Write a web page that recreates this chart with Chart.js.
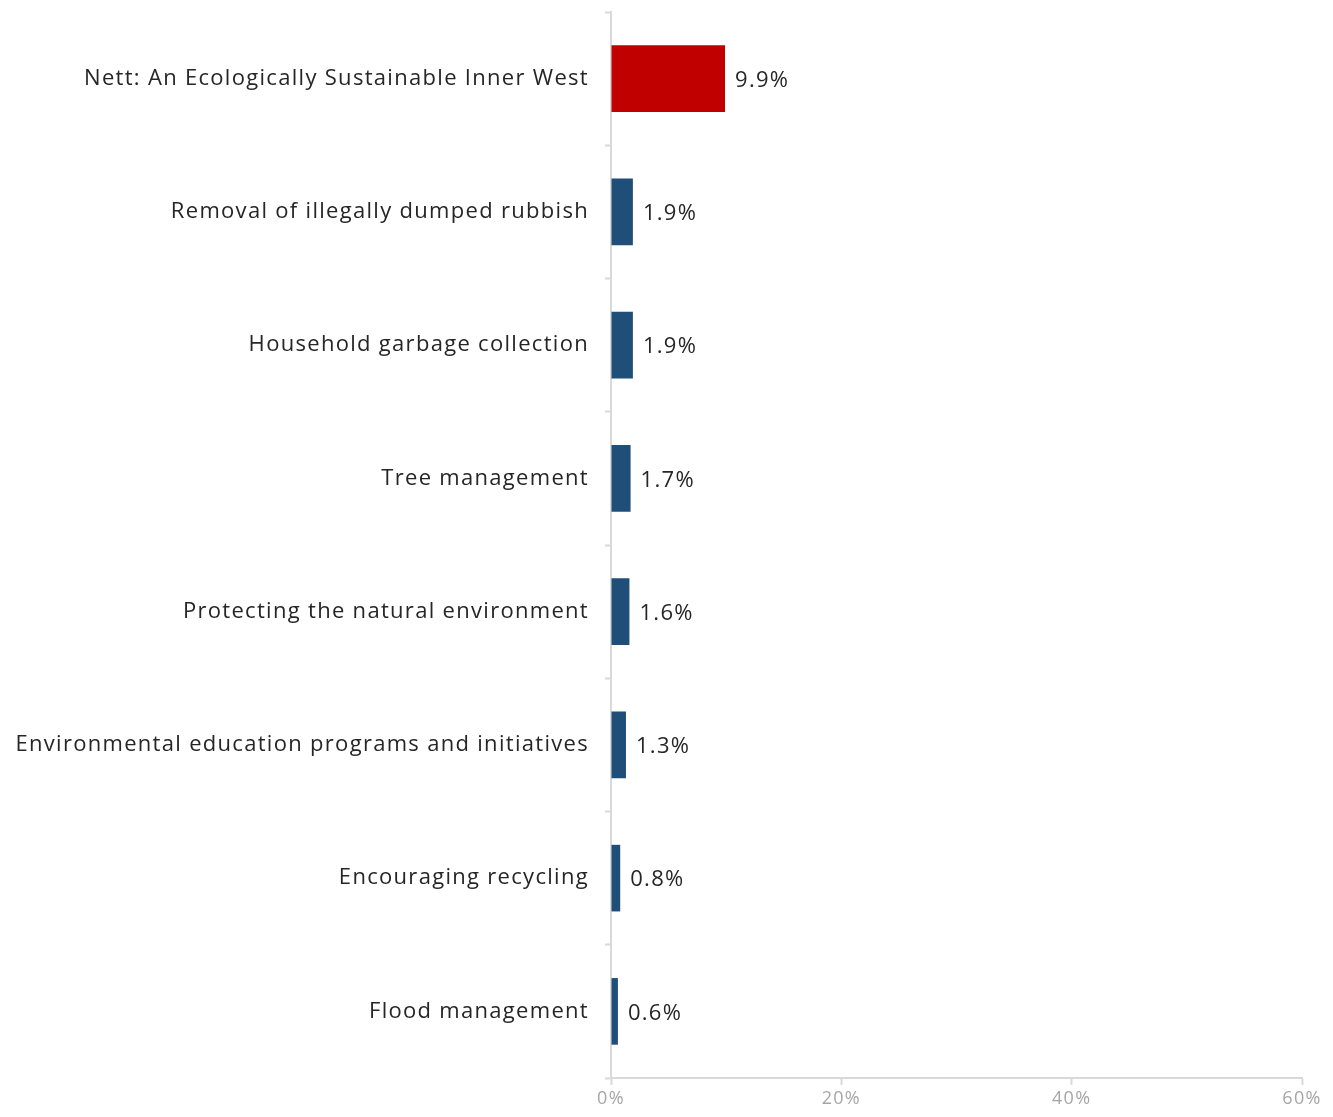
<!DOCTYPE html>
<html>
<head>
<meta charset="utf-8">
<script src="https://cdn.jsdelivr.net/npm/chart.js@4"></script>
<style>
  html, body { margin: 0; padding: 0; background: #fff; }
  #wrap { width: 1333px; height: 1117px; }
</style>
</head>
<body>
<div id="wrap"><canvas id="myChart"></canvas></div>
<script>
const categories = [
  'Nett: An Ecologically Sustainable Inner West',
  'Removal of illegally dumped rubbish',
  'Household garbage collection',
  'Tree management',
  'Protecting the natural environment',
  'Environmental education programs and initiatives',
  'Encouraging recycling',
  'Flood management'
]
const values = [9.9, 1.9, 1.9, 1.7, 1.6, 1.3, 0.8, 0.6]
const barColors = ['#C00000', '#1F4E79', '#1F4E79', '#1F4E79', '#1F4E79', '#1F4E79', '#1F4E79', '#1F4E79']
const xTicks = [0, 20, 40, 60]

const FONT = "'Open Sans', sans-serif"

// wider letter spacing to get closer to the original's wide font
const spacing = {
  id: 'spacing',
  beforeDraw(chart) { chart.ctx.letterSpacing = '1.3px' },
  afterDraw(chart) { chart.ctx.letterSpacing = '0px' }
}

// value labels at the end of each bar
const valueLabels = {
  id: 'valueLabels',
  afterDatasetsDraw(chart) {
    const ctx = chart.ctx
    const meta = chart.getDatasetMeta(0)
    ctx.save()
    ctx.font = '22px ' + FONT
    ctx.letterSpacing = '1.3px'
    ctx.fillStyle = '#262626'
    ctx.textAlign = 'left'
    ctx.textBaseline = 'middle'
    meta.data.forEach((bar, i) => {
      ctx.fillText(values[i].toFixed(1) + '%', bar.x + 10, bar.y + 2)
    })
    ctx.restore()
  }
}

new Chart('myChart', {
  type: 'bar',
  data: {
    labels: categories,
    datasets: [{
      data: values,
      backgroundColor: barColors,
      borderWidth: 0,
      categoryPercentage: 1,
      barPercentage: 0.5
    }]
  },
  options: {
    indexAxis: 'y',
    responsive: true,
    maintainAspectRatio: false,
    animation: false,
    layout: { padding: { top: 12, right: 31, left: 0, bottom: 0 } },
    plugins: {
      legend: { display: false },
      tooltip: { enabled: false }
    },
    scales: {
      x: {
        min: 0,
        max: 60,
        afterBuildTicks: scale => { scale.ticks = xTicks.map(v => ({ value: v })) },
        afterFit: scale => { scale.height = 39 },
        border: { color: '#d9d9d9', width: 2 },
        grid: { drawOnChartArea: false, tickLength: 7, tickColor: '#d9d9d9', tickWidth: 2 },
        ticks: {
          callback: v => v + '%',
          color: '#a6a6a6',
          font: { family: FONT, size: 18 },
          padding: 3
        }
      },
      y: {
        afterFit: scale => {
          scale.width = 611
          scale.paddingTop = 0
          scale.paddingBottom = 0
        },
        border: { color: '#d9d9d9', width: 2 },
        grid: { drawOnChartArea: false, offset: true, tickLength: 6, tickColor: '#d9d9d9', tickWidth: 2 },
        ticks: {
          color: '#262626',
          font: { family: FONT, size: 22 },
          padding: 16
        }
      }
    }
  },
  plugins: [spacing, valueLabels]
})
</script>
</body>
</html>
